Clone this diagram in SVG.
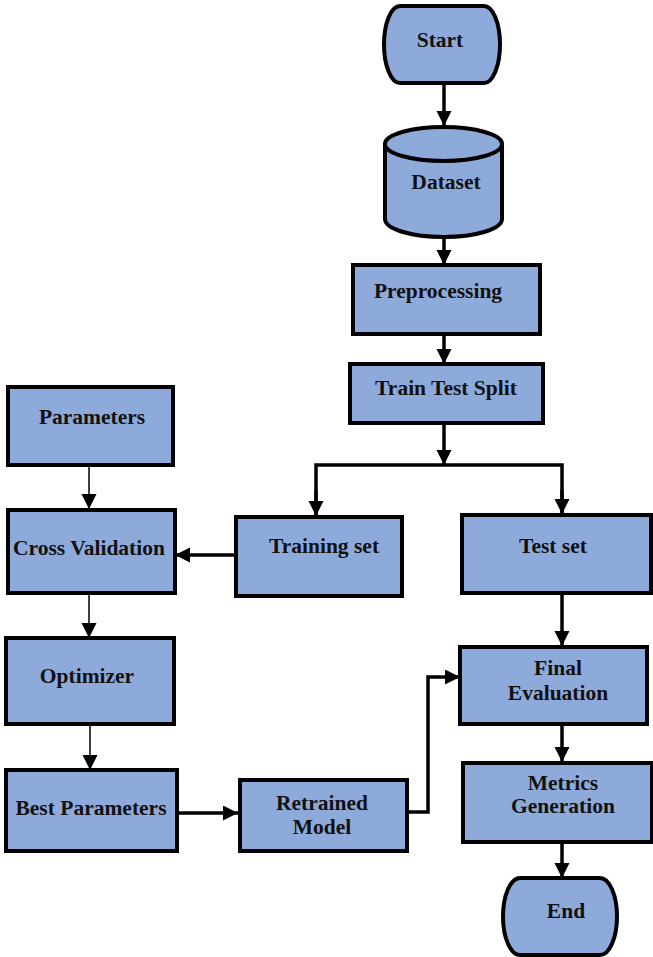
<svg xmlns="http://www.w3.org/2000/svg" width="653" height="957" viewBox="0 0 653 957">
<defs>
<style>
.n{fill:#8EAADB;stroke:#000;stroke-width:4}
.t{font-family:"Liberation Serif","Times New Roman",serif;font-weight:bold;font-size:21.5px;fill:#111;text-anchor:middle}
.k{fill:none;stroke:#000;stroke-width:3.5}
.h{fill:none;stroke:#000;stroke-width:1.5}
</style>
<marker id="a" markerUnits="userSpaceOnUse" markerWidth="16" markerHeight="16" refX="15" refY="7.5" orient="auto" viewBox="0 0 16 16">
<path d="M0,0 L15,7.5 L0,15 Z" fill="#000"/>
</marker>
</defs>
<rect width="653" height="957" fill="#fff"/>
<g id="connectors">
<line class="k" x1="444" y1="83" x2="444" y2="126" marker-end="url(#a)"/>
<line class="k" x1="444" y1="237" x2="444" y2="265" marker-end="url(#a)"/>
<line class="k" x1="444" y1="334" x2="444" y2="364" marker-end="url(#a)"/>
<line class="k" x1="444" y1="423" x2="444" y2="465" marker-end="url(#a)"/>
<polyline class="k" points="316,516 316,465 562,465 562,514"/>
<line class="k" x1="316" y1="490" x2="316" y2="516" marker-end="url(#a)"/>
<line class="k" x1="562" y1="490" x2="562" y2="514" marker-end="url(#a)"/>
<line class="k" x1="236" y1="555" x2="175" y2="555" marker-end="url(#a)"/>
<line class="h" x1="89" y1="465" x2="89" y2="509" marker-end="url(#a)"/>
<line class="h" x1="89" y1="593" x2="89" y2="638" marker-end="url(#a)"/>
<line class="h" x1="90" y1="724" x2="90" y2="770" marker-end="url(#a)"/>
<line class="k" x1="177" y1="813" x2="238" y2="813" marker-end="url(#a)"/>
<polyline class="k" points="407,812 428,812 428,677 460,677" marker-end="url(#a)"/>
<line class="k" x1="562" y1="593" x2="562" y2="646" marker-end="url(#a)"/>
<line class="k" x1="562" y1="724" x2="562" y2="762" marker-end="url(#a)"/>
<line class="k" x1="562" y1="842" x2="562" y2="878" marker-end="url(#a)"/>
</g>
<g id="start">
<path class="n" d="M400,6 H484 A16 38.5 0 0 1 484,83 H400 A16 38.5 0 0 1 400,6 Z"/>
<text class="t" x="440" y="47">Start</text>
</g>
<g id="dataset">
<path class="n" d="M385,144 A58.5 17 0 0 1 502,144 V219 A58.5 18 0 0 1 385,219 Z"/>
<path class="n" d="M385,144 A58.5 17 0 0 0 502,144"/>
<text class="t" x="446" y="189">Dataset</text>
</g>
<g id="preprocessing">
<rect class="n" x="353" y="265" width="187" height="69"/>
<text class="t" x="438" y="298">Preprocessing</text>
</g>
<g id="train-test-split">
<rect class="n" x="350" y="364" width="193" height="59"/>
<text class="t" x="446" y="395">Train Test Split</text>
</g>
<g id="parameters">
<rect class="n" x="8" y="387" width="165" height="78"/>
<text class="t" x="92" y="424">Parameters</text>
</g>
<g id="cross-validation">
<rect class="n" x="8" y="510" width="167" height="83"/>
<text class="t" x="89" y="555">Cross Validation</text>
</g>
<g id="training-set">
<rect class="n" x="236" y="517" width="166" height="79"/>
<text class="t" x="324" y="553">Training set</text>
</g>
<g id="test-set">
<rect class="n" x="462" y="515" width="189" height="78"/>
<text class="t" x="553" y="553">Test set</text>
</g>
<g id="optimizer">
<rect class="n" x="6" y="638" width="168" height="86"/>
<text class="t" x="87" y="683">Optimizer</text>
</g>
<g id="best-parameters">
<rect class="n" x="6" y="770" width="171" height="81"/>
<text class="t" x="91" y="815">Best Parameters</text>
</g>
<g id="retrained-model">
<rect class="n" x="240" y="780" width="167" height="71"/>
<text class="t" x="322" y="810">Retrained</text>
<text class="t" x="322" y="834">Model</text>
</g>
<g id="final-evaluation">
<rect class="n" x="460" y="647" width="187" height="77"/>
<text class="t" x="558" y="675">Final</text>
<text class="t" x="558" y="700">Evaluation</text>
</g>
<g id="metrics-generation">
<rect class="n" x="463" y="763" width="189" height="79"/>
<text class="t" x="563" y="790">Metrics</text>
<text class="t" x="563" y="813">Generation</text>
</g>
<g id="end">
<path class="n" d="M520,878 H600 A17 38.5 0 0 1 600,955 H520 A17 38.5 0 0 1 520,878 Z"/>
<text class="t" x="566" y="918">End</text>
</g>
</svg>
